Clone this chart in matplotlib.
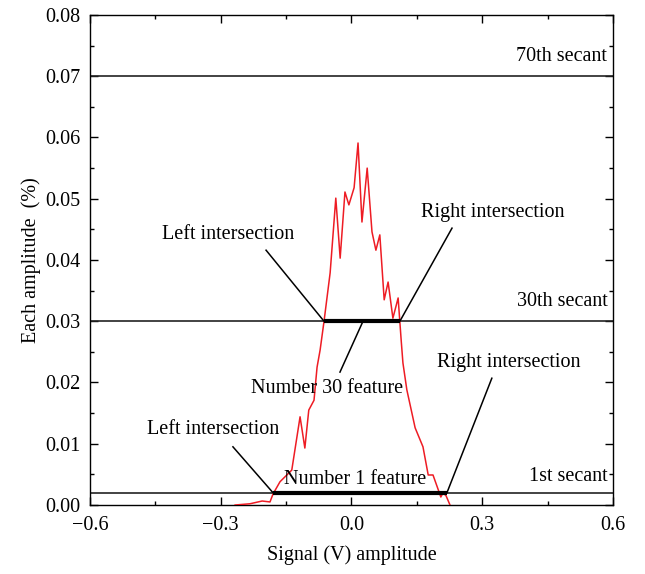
import matplotlib
matplotlib.use("Agg")
import matplotlib.pyplot as plt
from matplotlib.ticker import MultipleLocator, FuncFormatter

plt.rcParams['font.family'] = ['Liberation Serif', 'DejaVu Serif']

# Distribution of signal amplitudes
signal_v = [-0.267, -0.233, -0.205, -0.187, -0.180, -0.164, -0.137, -0.118, -0.107,
            -0.098, -0.086, -0.079, -0.072, -0.063, -0.049, -0.036, -0.026, -0.015,
            -0.006, 0.006, 0.015, 0.024, 0.036, 0.047, 0.056, 0.065, 0.075, 0.084,
            0.095, 0.107, 0.114, 0.118, 0.127, 0.146, 0.164, 0.176, 0.187, 0.205,
            0.210, 0.217, 0.226]
amplitude = [0.0000, 0.0002, 0.00065, 0.0005, 0.0018, 0.0038, 0.0057, 0.0144, 0.0093,
             0.0155, 0.0171, 0.0225, 0.0253, 0.0300, 0.0379, 0.0501, 0.0403, 0.0511,
             0.0490, 0.0518, 0.0591, 0.0462, 0.0550, 0.0446, 0.0416, 0.0441, 0.0335,
             0.0364, 0.0305, 0.0338, 0.0269, 0.0232, 0.0188, 0.0126, 0.0095, 0.0049,
             0.0049, 0.0013, 0.0020, 0.0015, 0.0000]

# Secant levels and their labels
secant_levels = [0.07, 0.03, 0.002]
secant_labels = ["70th secant", "30th secant", "1st secant"]
secant_label_y = [0.0733, 0.0333, 0.0047]

# Feature spans (left/right intersections) on the 30th and 1st secants
feature30 = (-0.063, 0.111)
feature1 = (-0.180, 0.219)

x_ticks = [-0.6, -0.3, 0.0, 0.3, 0.6]
y_ticks = [0.00, 0.01, 0.02, 0.03, 0.04, 0.05, 0.06, 0.07, 0.08]

FS = 14.5

fig = plt.figure(figsize=(6.45, 5.74), dpi=100)
ax = fig.add_axes([0.1395, 0.1202, 0.8109, 0.8537])

ax.plot(signal_v, amplitude, color='#ee1c24', lw=1.1, zorder=3)

for lvl, lab, ly in zip(secant_levels, secant_labels, secant_label_y):
    ax.axhline(lvl, color='#222222', lw=1.2, zorder=2)
    ax.text(0.587, ly, lab, ha='right', va='center', fontsize=FS)

ax.plot(feature30, [0.03, 0.03], color='black', lw=3, solid_capstyle='butt', zorder=4)
ax.plot(feature1, [0.002, 0.002], color='black', lw=3, solid_capstyle='butt', zorder=4)

# Callout lines and labels
callouts = [
    ("Left intersection", (-0.283, 0.0441), (-0.196, 0.0416), (feature30[0], 0.03)),
    ("Right intersection", (0.3247, 0.0477), (0.2306, 0.0452), (feature30[1], 0.03)),
    ("Number 30 feature", (-0.056, 0.0190), (-0.0264, 0.0217), (0.0264, 0.03)),
    ("Left intersection", (-0.318, 0.0124), (-0.272, 0.0095), (feature1[0], 0.002)),
    ("Right intersection", (0.361, 0.0232), (0.322, 0.0207), (feature1[1], 0.002)),
]
for text, tpos, p0, p1 in callouts:
    ax.plot([p0[0], p1[0]], [p0[1], p1[1]], color='black', lw=1.1, zorder=4)
    ax.text(tpos[0], tpos[1], text, ha='center', va='center', fontsize=FS)

ax.text(0.008, 0.0042, "Number 1 feature", ha='center', va='center', fontsize=FS)

ax.set_xlim(-0.6, 0.6)
ax.set_ylim(0.0, 0.08)
ax.set_xticks(x_ticks)
ax.set_yticks(y_ticks)
ax.xaxis.set_major_formatter(FuncFormatter(lambda v, p: f"{v:.1f}".replace('-', '\u2212')
                                           if abs(v) > 1e-9 else "0.0"))
ax.yaxis.set_major_formatter(FuncFormatter(lambda v, p: f"{v:.2f}"))
ax.xaxis.set_minor_locator(MultipleLocator(0.15))
ax.yaxis.set_minor_locator(MultipleLocator(0.005))
ax.tick_params(which='both', direction='in', top=True, right=True, labelsize=FS,
               width=1.0, color='black')
ax.tick_params(which='major', length=6)
ax.tick_params(axis='x', which='major', pad=8)
ax.tick_params(axis='y', which='major', pad=7)
ax.tick_params(which='minor', length=3)
for s in ax.spines.values():
    s.set_linewidth(1.0)

ax.set_xlabel("Signal (V) amplitude", fontsize=FS, labelpad=7)
ax.set_ylabel("Each amplitude  (%)", fontsize=FS, labelpad=3)

fig.savefig("out.png", dpi=100)
